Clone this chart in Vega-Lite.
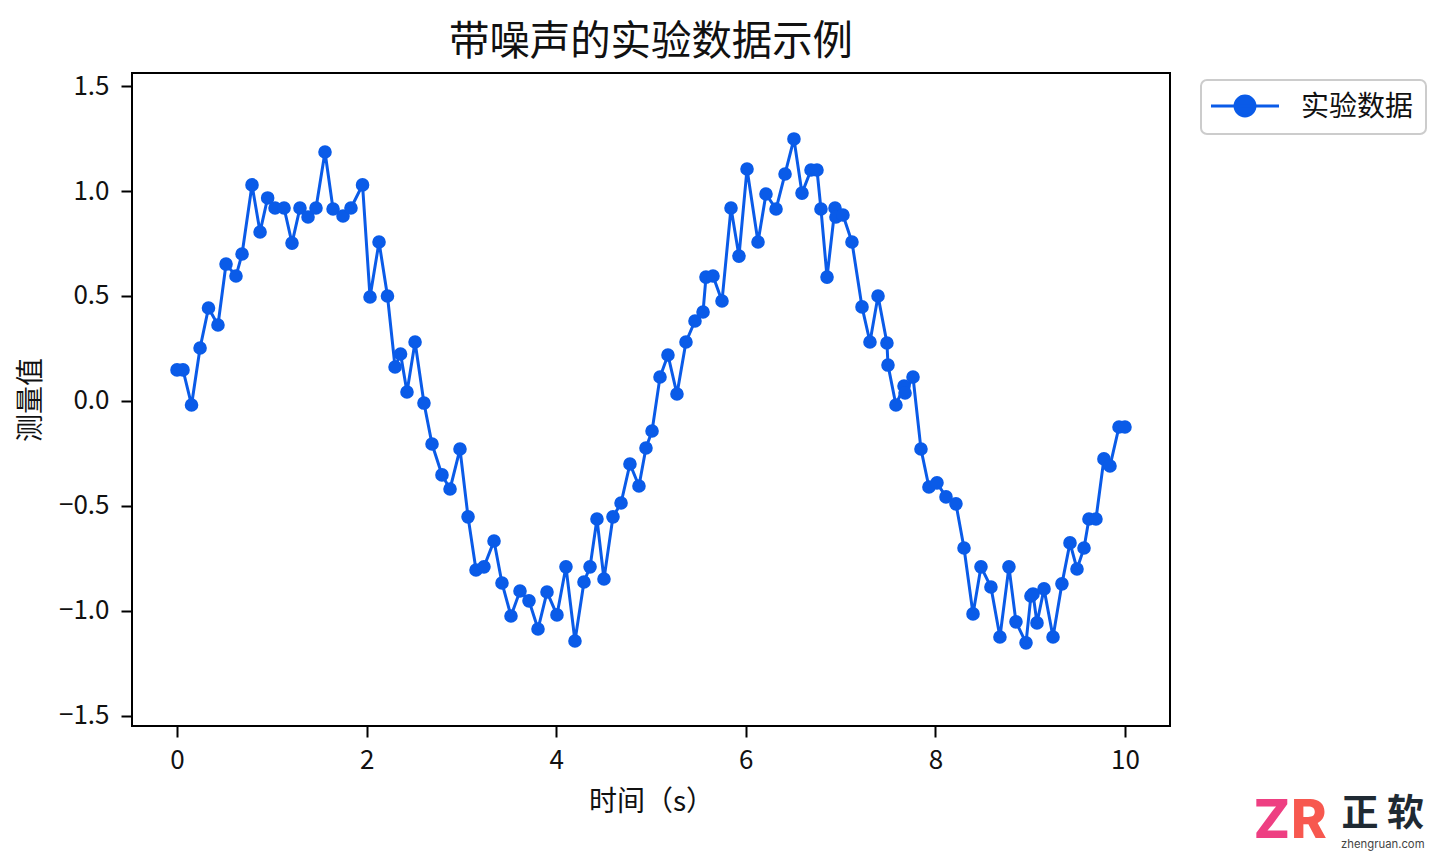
{
  "$schema": "https://vega.github.io/schema/vega-lite/v6.json",
  "width": 1038,
  "height": 653,
  "autosize": "none",
  "padding": {"left": 132, "top": 73, "right": 270, "bottom": 138},
  "background": "white",
  "title": {"text": "带噪声的实验数据示例", "fontSize": 40.4, "fontWeight": "normal", "font": "Noto Sans CJK SC", "color": "#111111", "anchor": "middle", "offset": 10},
  "config": {
    "font": "Noto Sans CJK SC",
    "view": {"stroke": "#000000", "strokeWidth": 2}
  },
  "datasets": {
    "measurements": [
      {"t":0,"v":0.148},{"t":0.063,"v":0.148},{"t":0.153,"v":-0.019},{"t":0.243,"v":0.252},{"t":0.332,"v":0.443},{"t":0.432,"v":0.362},{"t":0.517,"v":0.652},{"t":0.622,"v":0.595},{"t":0.686,"v":0.7},{"t":0.791,"v":1.029},
      {"t":0.876,"v":0.805},{"t":0.956,"v":0.967},{"t":1.034,"v":0.919},{"t":1.129,"v":0.919},{"t":1.213,"v":0.752},{"t":1.297,"v":0.919},{"t":1.382,"v":0.876},{"t":1.466,"v":0.919},{"t":1.561,"v":1.186},{"t":1.646,"v":0.914},
      {"t":1.751,"v":0.881},{"t":1.835,"v":0.919},{"t":1.957,"v":1.029},{"t":2.036,"v":0.495},{"t":2.131,"v":0.757},{"t":2.22,"v":0.5},{"t":2.3,"v":0.162},{"t":2.358,"v":0.224},{"t":2.426,"v":0.043},{"t":2.511,"v":0.281},
      {"t":2.605,"v":-0.01},{"t":2.69,"v":-0.205},{"t":2.795,"v":-0.352},{"t":2.88,"v":-0.419},{"t":2.985,"v":-0.229},{"t":3.07,"v":-0.552},{"t":3.154,"v":-0.805},{"t":3.238,"v":-0.79},{"t":3.344,"v":-0.667},{"t":3.428,"v":-0.867},
      {"t":3.523,"v":-1.024},{"t":3.618,"v":-0.905},{"t":3.713,"v":-0.952},{"t":3.808,"v":-1.086},{"t":3.903,"v":-0.91},{"t":4.008,"v":-1.019},{"t":4.103,"v":-0.79},{"t":4.198,"v":-1.143},{"t":4.293,"v":-0.862},{"t":4.357,"v":-0.79},
      {"t":4.43,"v":-0.562},{"t":4.504,"v":-0.848},{"t":4.599,"v":-0.552},{"t":4.684,"v":-0.486},{"t":4.778,"v":-0.3},{"t":4.873,"v":-0.405},{"t":4.947,"v":-0.224},{"t":5.011,"v":-0.143},{"t":5.095,"v":0.114},{"t":5.179,"v":0.219},
      {"t":5.274,"v":0.033},{"t":5.369,"v":0.281},{"t":5.464,"v":0.381},{"t":5.549,"v":0.424},{"t":5.58,"v":0.59},{"t":5.654,"v":0.595},{"t":5.749,"v":0.476},{"t":5.844,"v":0.919},{"t":5.928,"v":0.69},{"t":6.013,"v":1.105},
      {"t":6.129,"v":0.757},{"t":6.213,"v":0.986},{"t":6.319,"v":0.914},{"t":6.414,"v":1.081},{"t":6.508,"v":1.248},{"t":6.593,"v":0.99},{"t":6.688,"v":1.1},{"t":6.751,"v":1.1},{"t":6.793,"v":0.914},{"t":6.857,"v":0.59},
      {"t":6.941,"v":0.919},{"t":6.951,"v":0.876},{"t":7.025,"v":0.886},{"t":7.12,"v":0.757},{"t":7.226,"v":0.448},{"t":7.31,"v":0.281},{"t":7.395,"v":0.5},{"t":7.489,"v":0.276},{"t":7.5,"v":0.171},{"t":7.584,"v":-0.019},
      {"t":7.669,"v":0.071},{"t":7.68,"v":0.038},{"t":7.764,"v":0.114},{"t":7.848,"v":-0.229},{"t":7.932,"v":-0.41},{"t":8.017,"v":-0.39},{"t":8.112,"v":-0.457},{"t":8.217,"v":-0.49},{"t":8.302,"v":-0.7},{"t":8.397,"v":-1.014},
      {"t":8.481,"v":-0.79},{"t":8.586,"v":-0.886},{"t":8.681,"v":-1.124},{"t":8.776,"v":-0.79},{"t":8.85,"v":-1.052},{"t":8.956,"v":-1.152},{"t":9.008,"v":-0.929},{"t":9.03,"v":-0.919},{"t":9.072,"v":-1.057},{"t":9.146,"v":-0.895},
      {"t":9.241,"v":-1.124},{"t":9.335,"v":-0.871},{"t":9.42,"v":-0.676},{"t":9.494,"v":-0.8},{"t":9.568,"v":-0.7},{"t":9.62,"v":-0.562},{"t":9.694,"v":-0.562},{"t":9.778,"v":-0.276},{"t":9.842,"v":-0.31},{"t":9.937,"v":-0.124},{"t":10,"v":-0.124}
    ]
  },
  "data": {"name": "measurements"},
  "layer": [
    {
      "mark": {"type": "line", "strokeWidth": 3, "clip": false},
      "encoding": {
        "x": {
          "field": "t",
          "type": "quantitative",
          "title": "时间（s）",
          "scale": {"domain": [-0.475, 10.475], "nice": false, "zero": false},
          "axis": {"values": [0,2,4,6,8,10], "format": "d", "domain": false, "grid": false, "labelFontSize": 26, "labelColor": "#111111", "labelPadding": 10, "tickSize": 11, "tickWidth": 2, "tickColor": "#000000", "titleFontSize": 28, "titleFontWeight": "normal", "titleColor": "#111111", "titlePadding": 15}
        },
        "y": {
          "field": "v",
          "type": "quantitative",
          "title": "测量值",
          "scale": {"domain": [-1.548, 1.562], "nice": false, "zero": false},
          "axis": {"values": [-1.5,-1,-0.5,0,0.5,1,1.5], "format": ".1f", "domain": false, "grid": false, "labelFontSize": 26, "labelColor": "#111111", "labelPadding": 12, "tickSize": 11, "tickWidth": 2, "tickColor": "#000000", "titleFontSize": 28, "titleFontWeight": "normal", "titleColor": "#111111", "titlePadding": 13}
        },
        "color": {
          "datum": "实验数据",
          "type": "nominal",
          "scale": {"range": ["#0a5be8"]},
          "legend": {
            "orient": "none",
            "legendX": 1069,
            "legendY": 7,
            "title": null,
            "fillColor": "#ffffff",
            "strokeColor": "#cccccc",
            "cornerRadius": 6,
            "padding": 12,
            "labelFontSize": 28,
            "labelColor": "#111111",
            "labelOffset": 42,
            "symbolOffset": 18,
            "symbolType": "M-3,0H3M0.88,0A0.88,0.88,0,1,1,-0.88,0A0.88,0.88,0,1,1,0.88,0Z",
            "symbolSize": 514,
            "symbolStrokeWidth": 3,
            "symbolFillColor": "#0a5be8",
            "symbolStrokeColor": "#0a5be8",
            "encode": {
              "legend": {"update": {"strokeWidth": {"value": 2}}},
              "labels": {"update": {"dy": {"value": 2}}}
            }
          }
        }
      }
    },
    {
      "mark": {"type": "circle", "size": 185, "opacity": 1, "clip": false},
      "encoding": {
        "x": {"field": "t", "type": "quantitative"},
        "y": {"field": "v", "type": "quantitative"},
        "color": {"datum": "实验数据", "type": "nominal"}
      }
    },
    {
      "data": {"values": [{"label": "Z"}]},
      "mark": {"type": "text", "fontSize": 54, "fontWeight": 800, "font": "Inter", "color": "#ee3f82", "align": "center", "baseline": "middle"},
      "encoding": {"x": {"datum": 11.55}, "y": {"datum": -2.005}, "text": {"field": "label"}}
    },
    {
      "data": {"values": [{"label": "R"}]},
      "mark": {"type": "text", "fontSize": 54, "fontWeight": 800, "font": "Inter", "color": "#f7584f", "align": "center", "baseline": "middle"},
      "encoding": {"x": {"datum": 11.94}, "y": {"datum": -2.005}, "text": {"field": "label"}}
    },
    {
      "data": {"values": [{"label": "正 软"}]},
      "mark": {"type": "text", "fontSize": 37, "fontWeight": 700, "font": "Noto Sans CJK SC", "color": "#1f2a33", "align": "center", "baseline": "middle"},
      "encoding": {"x": {"datum": 12.72}, "y": {"datum": -1.97}, "text": {"field": "label"}}
    },
    {
      "data": {"values": [{"label": "zhengruan.com"}]},
      "mark": {"type": "text", "fontSize": 11.3, "font": "Inter", "color": "#444444", "align": "center", "baseline": "middle"},
      "encoding": {"x": {"datum": 12.72}, "y": {"datum": -2.115}, "text": {"field": "label"}}
    }
  ]
}
